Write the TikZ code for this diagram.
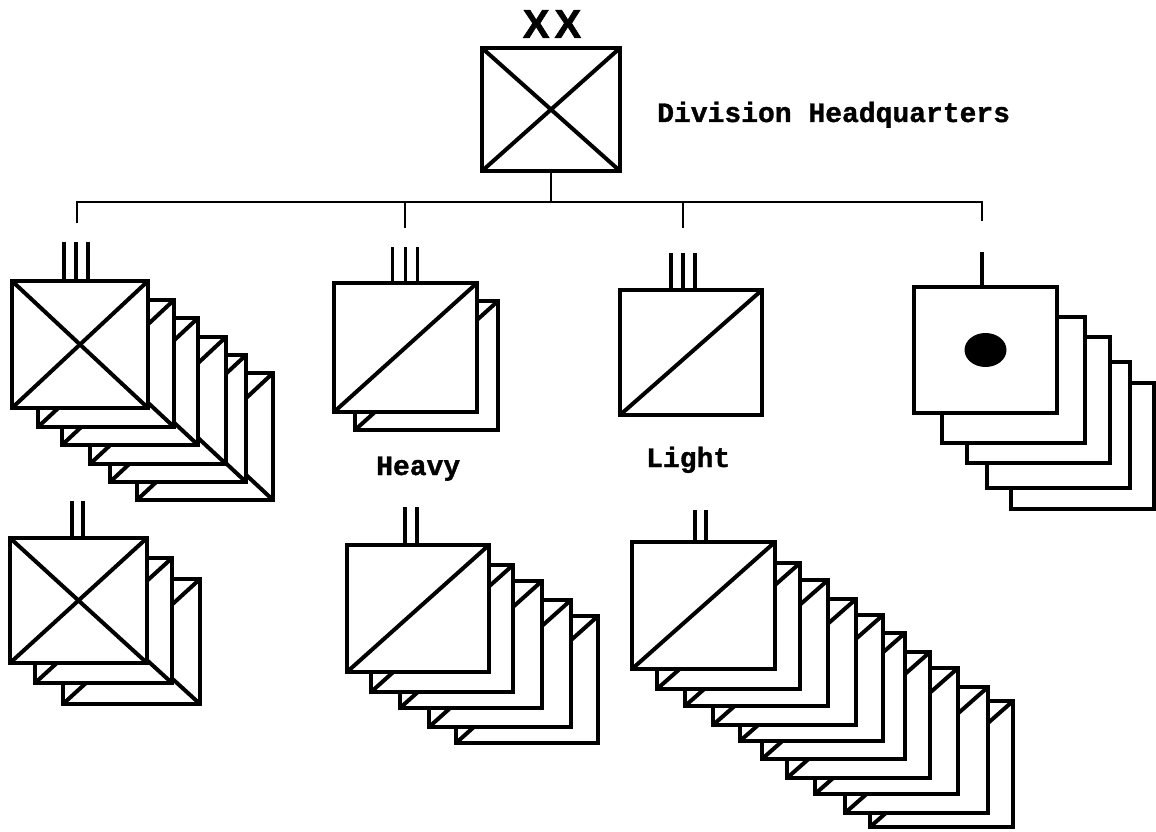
\documentclass[tikz,border=0pt]{standalone}
\usepackage{fontspec}
\newfontfamily\labelfont[BoldFeatures={FakeBold=1.2}]{Liberation Mono}
\newfontfamily\echfont[BoldFeatures={FakeBold=1.5}]{Liberation Sans}
\begin{document}
\begin{tikzpicture}[x=1pt,y=-1pt,
  unit/.style={draw, fill=white, line width=3.3pt, inner sep=0pt, outer sep=0pt},
  xsym/.style={path picture={\draw[line width=4pt]
      (path picture bounding box.north west) -- (path picture bounding box.south east)
      (path picture bounding box.south west) -- (path picture bounding box.north east);}},
  ssym/.style={path picture={\draw[line width=4pt]
      (path picture bounding box.south west) -- (path picture bounding box.north east);}},
  dsym/.style={path picture={\fill[black] (path picture bounding box.center) ellipse [x radius=21pt, y radius=17pt];}},
  echmark/.style={line width=3.6pt},
  bus/.style={line width=2.3pt},
  lbl/.style={font=\labelfont\bfseries\fontsize{28}{28}\selectfont, inner sep=0pt, anchor=base west}
]
\useasboundingbox (0,0) rectangle (1156,832);

% Division headquarters
\node[unit, xsym, minimum width=138pt, minimum height=123pt] (H) at (551,109.5) {};
\node[font=\echfont\bfseries\fontsize{40}{40}\selectfont, inner sep=0pt] (XX) at (552,24) {X\hspace{5pt}X};
\node[lbl] (HQ) at (657,122) {Division Headquarters};

% bus
\coordinate (b0) at (H.south |- 0,202);
\coordinate (bA) at (77,202);  \coordinate (dA) at (77,223);
\coordinate (bB) at (405,202); \coordinate (dB) at (405,228);
\coordinate (bC) at (683,202); \coordinate (dC) at (683,228);
\coordinate (bD) at (982,202); \coordinate (dD) at (982,221);
\draw[bus] (H.south) -- (b0);
\draw[bus] (dA) -- (bA) -- (bD) -- (dD);
\draw[bus] (bB) -- (dB);
\draw[bus] (bC) -- (dC);

% Group A: brigades (X), top left
\foreach \l/\t [count=\i] in {137/373,110/355,90/337,62/318,38/300}
  \node[unit, xsym, minimum width=136pt, minimum height=127pt] (A\i) at (\l+68,\t+63.5) {};
\node[unit, xsym, minimum width=136pt, minimum height=127pt] (A) at (80,344.5) {};
\foreach \s in {-16,-4,8} \draw[echmark] ([xshift=\s pt]A.north) -- ++(0,-39);

% Group B: heavy regiment
\node[unit, ssym, minimum width=143pt, minimum height=129pt] (B1) at (426.5,365.5) {};
\node[unit, ssym, minimum width=143pt, minimum height=129pt] (B) at (405.5,347.5) {};
\foreach \s in {-13,0,12} \draw[echmark] ([xshift=\s pt]B.north) -- ++(0,-36);
\node[lbl] (heavy) at (376,475) {Heavy};

% Group C: light regiment
\node[unit, ssym, minimum width=142pt, minimum height=125pt] (C) at (691,352.5) {};
\foreach \s in {-20,-8,4} \draw[echmark] ([xshift=\s pt]C.north) -- ++(0,-37);
\node[lbl] (light) at (646,467) {Light};

% Group D: companies (dot)
\foreach \l/\t [count=\i] in {1011/383,987/362,967/337,942/317}
  \node[unit, minimum width=143pt, minimum height=126pt] (D\i) at (\l+71.5,\t+63) {};
\node[unit, dsym, minimum width=143pt, minimum height=126pt] (D) at (985.5,350) {};
\draw[echmark] ([xshift=-3.5pt]D.north) -- ++(0,-35);

% Group E: battalions (X), bottom left
\foreach \l/\t [count=\i] in {63/579,35/558}
  \node[unit, xsym, minimum width=137pt, minimum height=125pt] (E\i) at (\l+68.5,\t+62.5) {};
\node[unit, xsym, minimum width=137pt, minimum height=125pt] (E) at (78.5,600.5) {};
\foreach \s in {-6.5,4.5} \draw[echmark] ([xshift=\s pt]E.north) -- ++(0,-37);

% Group F: battalions (heavy)
\foreach \l/\t [count=\i] in {456/616,429/600,400/581,371/565}
  \node[unit, ssym, minimum width=142pt, minimum height=127pt] (F\i) at (\l+71,\t+63.5) {};
\node[unit, ssym, minimum width=142pt, minimum height=127pt] (F) at (418,608.5) {};
\foreach \s in {-13,-1} \draw[echmark] ([xshift=\s pt]F.north) -- ++(0,-38);

% Group G: battalions (light)
\foreach \l/\t [count=\i] in {870/701,845/687,815/668,787/652,762/633,740/615,713/599,685/580,657/563}
  \node[unit, ssym, minimum width=143pt, minimum height=126pt] (G\i) at (\l+71.5,\t+63) {};
\node[unit, ssym, minimum width=143pt, minimum height=127pt] (G) at (703.5,605.5) {};
\foreach \s in {-8.5,2.5} \draw[echmark] ([xshift=\s pt]G.north) -- ++(0,-32);
\end{tikzpicture}
\end{document}
